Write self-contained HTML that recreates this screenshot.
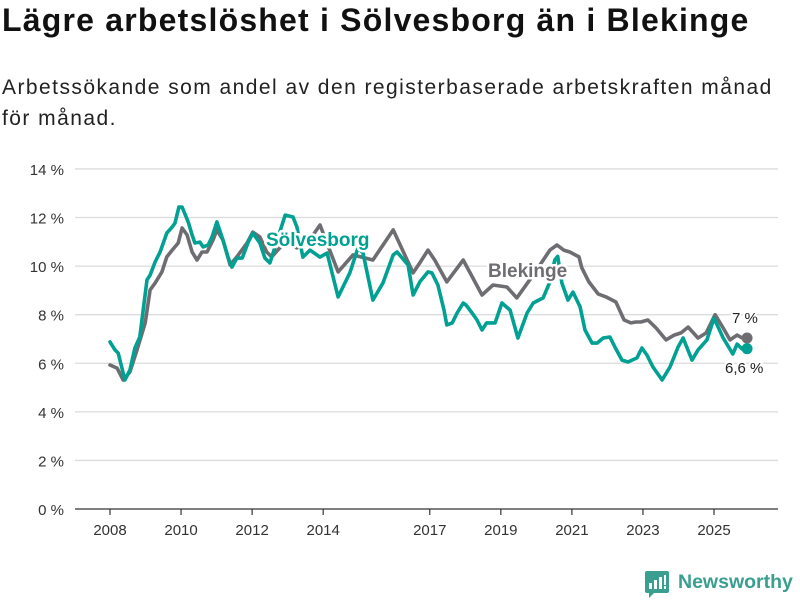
<!DOCTYPE html>
<html><head><meta charset="utf-8">
<style>
body{margin:0;background:#fff;width:800px;height:600px;overflow:hidden;font-family:"Liberation Sans",sans-serif;}
h1{position:absolute;left:2px;top:2px;margin:0;font-size:32px;font-weight:bold;color:#111;letter-spacing:1.2px;white-space:nowrap}
.sub{position:absolute;left:2px;top:72px;margin:0;font-size:21px;line-height:31px;color:#222;width:798px;letter-spacing:1.45px;white-space:nowrap}
svg{position:absolute;left:0;top:0}
</style></head><body>
<h1>Lägre arbetslöshet i Sölvesborg än i Blekinge</h1>
<p class="sub">Arbetssökande som andel av den registerbaserade arbetskraften månad<br>för månad.</p>
<svg id="chart" width="800" height="600"></svg>
<script>
const yTicks=[0,2,4,6,8,10,12,14];
const xTickYears=[2008,2010,2012,2014,2017,2019,2021,2023,2025];
const solvYears=[0,.14,.23,.42,.56,.70,.84,1.04,1.13,1.27,1.41,1.60,1.75,1.83,1.94,2.03,2.20,2.31,2.39,2.53,2.62,2.76,2.87,3.01,3.18,3.32,3.43,3.57,3.72,3.88,4.02,4.22,4.36,4.50,4.93,5.15,5.26,5.43,5.63,5.91,6.11,6.42,6.75,6.98,7.12,7.40,7.68,7.97,8.08,8.39,8.53,8.72,8.95,9.06,9.23,9.40,9.48,9.63,9.77,9.94,10.02,10.19,10.33,10.47,10.60,10.84,11.03,11.26,11.48,11.74,11.91,12.19,12.38,12.52,12.60,12.72,12.89,13.03,13.23,13.37,13.57,13.71,13.88,14.07,14.21,14.41,14.58,14.83,14.97,15.11,15.28,15.54,15.76,15.99,16.13,16.38,16.55,16.80,17.00,17.26,17.53,17.65,17.79,17.93];
const solvValues=[6.88,6.55,6.42,5.31,5.72,6.63,7.08,9.43,9.63,10.17,10.58,11.36,11.61,11.77,12.43,12.43,11.82,11.28,10.95,10.99,10.79,10.87,11.20,11.82,11.07,10.37,9.96,10.33,10.33,10.95,11.36,10.95,10.33,10.13,12.10,12.02,11.61,10.37,10.66,10.37,10.54,8.73,9.72,10.75,10.54,8.60,9.30,10.46,10.58,10.05,8.81,9.35,9.76,9.72,9.22,8.19,7.58,7.66,8.07,8.48,8.40,8.07,7.78,7.37,7.66,7.66,8.48,8.19,7.04,8.07,8.48,8.69,9.35,10.25,10.4,9.30,8.60,8.93,8.32,7.37,6.83,6.83,7.04,7.08,6.67,6.13,6.05,6.22,6.63,6.34,5.85,5.31,5.85,6.67,7.04,6.13,6.55,6.96,7.86,7.04,6.38,6.79,6.59,6.6];
const blekYears=[0,.2,.37,.56,.76,.99,1.13,1.27,1.46,1.60,1.75,1.92,2.03,2.17,2.31,2.45,2.59,2.73,2.90,3.01,3.18,3.38,3.57,3.86,4.02,4.22,4.41,4.55,4.93,5.26,5.63,5.91,6.42,6.84,7.40,7.97,8.53,8.72,8.95,9.14,9.48,9.94,10.47,10.78,11.17,11.45,11.91,12.38,12.58,12.77,12.94,13.20,13.28,13.48,13.74,13.96,14.24,14.47,14.66,14.80,14.94,15.14,15.37,15.65,15.88,16.07,16.27,16.55,16.78,17.03,17.26,17.45,17.65,17.79,17.93];
const blekValues=[5.93,5.80,5.31,5.64,6.55,7.66,9.02,9.30,9.76,10.38,10.66,10.95,11.57,11.28,10.58,10.25,10.58,10.58,11.07,11.49,11.07,10.05,10.38,10.95,11.40,11.20,10.58,10.38,11.0,10.75,11.1,11.69,9.76,10.46,10.25,11.49,9.72,10.13,10.66,10.25,9.35,10.25,8.81,9.22,9.14,8.69,9.63,10.66,10.87,10.66,10.58,10.38,9.93,9.35,8.85,8.73,8.52,7.78,7.66,7.70,7.70,7.78,7.45,6.96,7.16,7.25,7.49,7.04,7.25,8.0,7.45,6.96,7.16,7.04,7.04];

const svg=document.getElementById('chart');
const NS='http://www.w3.org/2000/svg';
const x=t=>110+t*35.53;
const xYear=y=>x(y-2008);
const yv=v=>509-v*24.29;
function mk(tag,attrs,parent){const e=document.createElementNS(NS,tag);for(const k in attrs)e.setAttribute(k,attrs[k]);(parent||svg).appendChild(e);return e;}

yTicks.forEach(t=>{
  const l=mk('line',{x1:75,x2:778,y1:yv(t),y2:yv(t),stroke:t===0?'#333':'#dcdcdc','stroke-width':1.3});
  
  
  const tx=mk('text',{x:64,y:yv(t)+6,'text-anchor':'end','font-size':15,fill:'#333'});
  tx.textContent=t+' %';
  
  
});
xTickYears.forEach(yr=>{
  const l=mk('line',{x1:xYear(yr),x2:xYear(yr),y1:509,y2:515,stroke:'#333','stroke-width':1.2});
  
  
  const tx=mk('text',{x:xYear(yr),y:535,'text-anchor':'middle','font-size':15,fill:'#333'});
  tx.textContent=yr;
  
  
});
function line(ys,vs,color,name){
  const d=ys.map((t,i)=>(i?'L':'M')+x(t).toFixed(1)+','+yv(vs[i]).toFixed(1)).join('');
  const p=mk('path',{d:d,fill:'none',stroke:color,'stroke-width':3.6,'stroke-linejoin':'round','stroke-linecap':'round'});
  
  
  const n=ys.length-1;
  const c=mk('circle',{cx:x(ys[n]),cy:yv(vs[n]),r:5.5,fill:color});
  
  
}
line(blekYears,blekValues,'#6e6d72','blekinge-line');
line(solvYears,solvValues,'#00a192','solvesborg-line');
function lab(txt,xx,yy,color,size,bold,name,anchor){
  const t=mk('text',{x:xx,y:yy,'font-size':size,'font-weight':bold?'bold':'normal',fill:color,stroke:'#fff','stroke-width':bold?5:4,'paint-order':'stroke','stroke-linejoin':'round','text-anchor':anchor||'start'});
  t.textContent=txt;
  
  
}
lab('Sölvesborg',266,246,'#00a192',19,true,'solvesborg-label');
lab('Blekinge',488,277,'#6e6d72',19,true,'blekinge-label');
lab('7 %',732,323,'#222',15,false,'blekinge-end-value');
lab('6,6 %',725,373,'#222',15,false,'solvesborg-end-value');
</script>
<div style="position:absolute;left:645px;top:571px;display:flex;align-items:center">
<svg width="24" height="28" style="position:static"><path d="M0 2 Q0 0 2 0 H22 Q24 0 24 2 V20 Q24 22 22 22 H9 L4 27 V22 H2 Q0 22 0 20Z" fill="#3a9e90"/><rect x="4" y="12" width="3" height="6" fill="#fff"/><rect x="9" y="9" width="3" height="9" fill="#fff"/><rect x="14" y="6" width="3" height="12" fill="#fff"/><rect x="19" y="4" width="2" height="10" fill="#fff"/><rect x="19" y="15" width="2" height="3" fill="#fff"/></svg>
<span style="margin-left:9px;font-size:19.5px;color:#3a9e90;font-weight:bold;margin-top:-6px">Newsworthy</span>
</div>
</body></html>
